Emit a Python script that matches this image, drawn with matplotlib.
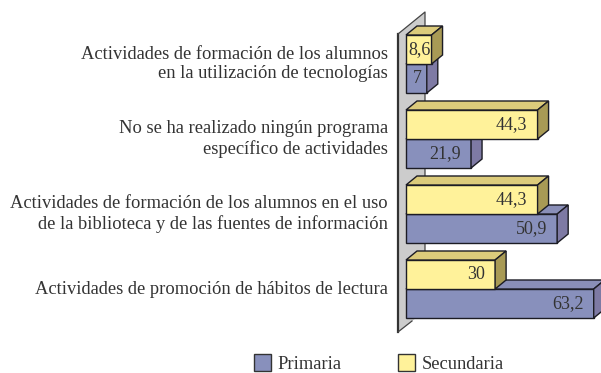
import matplotlib
matplotlib.use("Agg")
from matplotlib import pyplot as plt
from matplotlib.patches import Patch, Polygon

categories = [
    "Actividades de promoción de hábitos de lectura",
    "Actividades de formación de los alumnos en el uso\nde la biblioteca y de las fuentes de información",
    "No se ha realizado ningún programa\nespecífico de actividades",
    "Actividades de formación de los alumnos\nen la utilización de tecnologías",
]
primaria = [63.2, 50.9, 21.9, 7]
secundaria = [30, 44.3, 44.3, 8.6]

W, H = 601, 373
PX_X = 2.97  # pixels per percent
PX_Y = 75.0  # pixels between groups
X0, Y0 = 406, 289  # pixel of value 0 / of the lowest group
BAR_H = 29 / PX_Y
DX, DY = 11 / PX_X, 9 / PX_Y

BLUE = ("#8890BC", "#8A8FB8", "#7E7AA4")
YELLOW = ("#FFF29A", "#DCCB7B", "#A89A55")
EDGE = "#1c1c24"
TEXT = "#333333"

plt.rcParams["font.family"] = ["Liberation Serif", "DejaVu Serif"]

fig = plt.figure(figsize=(W / 100, H / 100), dpi=100)
ax = fig.add_axes([0, 0, 1, 1])
ax.set_xlim(-X0 / PX_X, (W - X0) / PX_X)
ax.set_ylim(-(H - Y0) / PX_Y, Y0 / PX_Y)
ax.axis("off")


def px(x, y):
    return (x - X0) / PX_X, (Y0 - y) / PX_Y


# back wall
wall = [px(398, 34), px(425, 12), px(425, 311), px(398, 332)]
ax.add_patch(Polygon(wall, closed=True, fc="#CCCCCC", ec="none", zorder=1))
ax.plot(*zip(px(398, 34), px(398, 332)), color="#333333", lw=1.6, zorder=1)
ax.plot(*zip(px(398, 34), px(425, 12), px(425, 311)), color="#444444", lw=0.9, zorder=1)
ax.plot(*zip(px(398, 332), px(412, 321)), color="#444444", lw=0.9, zorder=1)


def bar3d(value, y_low, colors, z):
    front, top, side = colors
    y_high = y_low + BAR_H
    ax.barh(y_low, value, height=BAR_H, align="edge", color=front,
            edgecolor=EDGE, linewidth=1, zorder=z)
    ax.add_patch(Polygon([(0, y_high), (value, y_high), (value + DX, y_high + DY), (DX, y_high + DY)],
                         closed=True, fc=top, ec=EDGE, lw=1, zorder=z))
    ax.add_patch(Polygon([(value, y_low), (value + DX, y_low + DY), (value + DX, y_high + DY), (value, y_high)],
                         closed=True, fc=side, ec=EDGE, lw=1, zorder=z))


def value_label(value, y, pad):
    ax.annotate(str(value).replace(".", ","), (value, y), xytext=(-pad, 0),
                textcoords="offset pixels", ha="right", va="center",
                fontsize=13, color=TEXT, zorder=20)


label_pads = {8.6: 1, 7: 5}

for i in range(len(categories)):
    z = 2 + 2 * i
    bar3d(primaria[i], i - BAR_H, BLUE, z)
    bar3d(secundaria[i], i, YELLOW, z + 1)
    value_label(primaria[i], i - BAR_H / 2, label_pads.get(primaria[i], 10))
    value_label(secundaria[i], i + BAR_H / 2, label_pads.get(secundaria[i], 10))
    ax.text(*px(388, Y0 - i * PX_Y), categories[i], ha="right", va="center",
            fontsize=13.3, color=TEXT, linespacing=1.22, zorder=20)

handles = [Patch(fc=BLUE[0], ec="#333333", lw=1, label="Primaria"),
           Patch(fc=YELLOW[0], ec="#333333", lw=1, label="Secundaria")]
leg = ax.legend(handles=handles, ncol=2, frameon=False, loc="lower left",
                bbox_to_anchor=(254 / W, 0.0), borderpad=0, borderaxespad=0,
                handlelength=0.92, handleheight=1.05, handletextpad=0.33,
                columnspacing=3.1, prop={"size": 13.3})
for t in leg.get_texts():
    t.set_color(TEXT)

fig.savefig("out.png", dpi=100)
